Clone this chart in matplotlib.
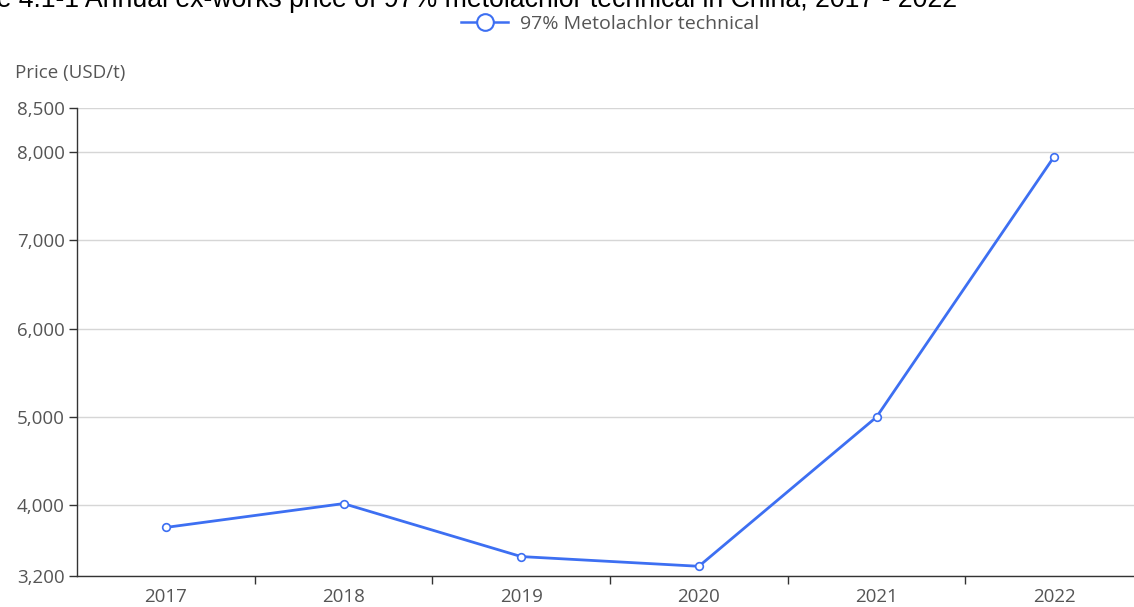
import matplotlib
matplotlib.use("Agg")
import matplotlib.pyplot as plt
from matplotlib.lines import Line2D
from matplotlib.ticker import FuncFormatter

years = ["2017", "2018", "2019", "2020", "2021", "2022"]
prices = [3750, 4020, 3420, 3310, 5000, 7950]
y_ticks = [3200, 4000, 5000, 6000, 7000, 8000, 8500]

title = "Figure 4.1-1 Annual ex-works price of 97% metolachlor technical in China, 2017 - 2022"
series_name = "97% Metolachlor technical"

W, H = 1134, 607
blue = "#3d6ff2"
axis_c = "#333333"
text_c = "#555555"

plt.rcParams["font.family"] = ["Open Sans", "DejaVu Sans"]

fig = plt.figure(figsize=(W / 100, H / 100), dpi=100)
ax = fig.add_axes([77 / W, 1 - 576 / H, (1143 - 77) / W, (576 - 108) / H])

x = list(range(len(years)))
ax.plot(x, prices, color=blue, lw=2, marker="o", ms=5.5, mfc="white",
        mec=blue, mew=1.2, zorder=3, clip_on=False)

ax.set_xlim(-0.5, len(years) - 0.5)
ax.set_ylim(y_ticks[0], y_ticks[-1])
ax.set_yticks(y_ticks)
ax.yaxis.set_major_formatter(FuncFormatter(lambda v, p: f"{int(v):,}"))
ax.set_xticks(x)
ax.set_xticklabels(years)
ax.set_xticks([i + 0.5 for i in x[:-1]], minor=True)

ax.grid(axis="y", color="#d6d6d6", lw=1)
ax.set_axisbelow(True)
for s in ["top", "right"]:
    ax.spines[s].set_visible(False)
for s in ["left", "bottom"]:
    ax.spines[s].set_color(axis_c)
    ax.spines[s].set_linewidth(1)

ax.tick_params(axis="y", length=6, width=1, color=axis_c, labelcolor=text_c,
               labelsize=13.5, pad=3)
ax.tick_params(axis="x", which="major", length=0, labelcolor=text_c,
               labelsize=13.5, pad=9)
ax.tick_params(axis="x", which="minor", length=6, width=1, color=axis_c)

fig.text(15 / W, 1 - 73 / H, "Price (USD/t)", color=text_c, fontsize=13.5,
         va="center", ha="left")

fig.text(957 / W, 1 - 7 / H, title, fontsize=19.2, ha="right", va="baseline",
         color="black", family=["Liberation Sans", "DejaVu Sans"])

handle = Line2D([], [], color=blue, lw=1.8, marker="o", ms=12, mfc="white",
                mec=blue, mew=1.5)
fig.legend([handle], [series_name], loc="center", bbox_to_anchor=(610 / W, 1 - 24 / H),
           frameon=False, fontsize=14, labelcolor=text_c, handlelength=2.4,
           handletextpad=0.6)

fig.savefig("out.png", dpi=100)
